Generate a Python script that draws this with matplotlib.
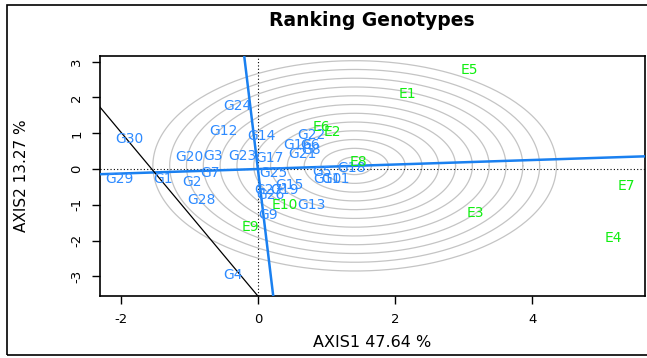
import numpy as np
import matplotlib
matplotlib.use("Agg")
import matplotlib.pyplot as plt
from matplotlib.patches import Rectangle

plt.rcParams['font.family'] = ['DejaVu Sans']
plt.rcParams['axes.unicode_minus'] = False

# genotype scores
gen_names = ["G1", "G2", "G3", "G4", "G5", "G6", "G7", "G8", "G9", "G10",
             "G11", "G12", "G13", "G14", "G15", "G16", "G17", "G18", "G19", "G20",
             "G21", "G22", "G23", "G24", "G25", "G26", "G27", "G28", "G29", "G30"]
gen_x = [-1.385, -0.962, -0.656, -0.364, 0.933, 0.758, -0.700, 0.773, 0.146, 1.020,
         1.137, -0.496, 0.787, 0.058, 0.466, 0.583, 0.175, 1.370, 0.394, -0.991,
         0.656, 0.773, -0.233, -0.292, 0.219, 0.190, 0.146, -0.816, -2.012, -1.866]
gen_y = [-0.279, -0.363, 0.363, -2.961, -0.084, 0.670, -0.112, 0.531, -1.285, -0.279,
         -0.279, 1.061, -1.006, 0.922, -0.447, 0.670, 0.307, 0.028, -0.587, 0.335,
         0.419, 0.950, 0.363, 1.760, -0.112, -0.726, -0.587, -0.866, -0.279, 0.838]

# environment scores
env_names = ["E1", "E2", "E3", "E4", "E5", "E6", "E7", "E8", "E9", "E10"]
env_x = [2.172, 1.079, 3.163, 5.175, 3.076, 0.933, 5.364, 1.458, -0.102, 0.394]
env_y = [2.095, 1.034, -1.229, -1.927, 2.765, 1.173, -0.475, 0.196, -1.620, -1.006]

# average environment axis and the ideal point rings
aea_slope = 0.063
ideal_x = 1.41
ring_radii = [0.245 * k for k in range(1, 13)]
black_pts = [(-2.30, 1.73), (0.0, -3.55)]

x_label = "AXIS1 47.64 %"
y_label = "AXIS2 13.27 %"
title = "Ranking Genotypes"

gen_col = "#2E8BFF"
env_col = "#11EE11"
line_col = "#1A80F0"

fig = plt.figure(figsize=(6.47, 3.58), dpi=100)
ax = fig.add_axes([100 / 647, 1 - 296 / 358, 545 / 647, 240 / 358])

# rings around the ideal genotype
ideal_y = aea_slope * ideal_x
t = np.linspace(0, 2 * np.pi, 400)
for r in ring_radii:
    ax.plot(ideal_x + r * np.cos(t), ideal_y + r * np.sin(t), color="#C4C4C4", lw=0.9, zorder=1)

ax.axhline(0, color="black", ls=(0, (1, 2)), lw=0.8, zorder=2)
ax.axvline(0, color="black", ls=(0, (1, 2)), lw=0.8, zorder=2)

ax.axline((0, 0), slope=aea_slope, color=line_col, lw=1.8, zorder=3)
ax.axline((0, 0), slope=-1 / aea_slope, color=line_col, lw=1.8, zorder=3)
ax.axline(black_pts[0], black_pts[1], color="black", lw=0.9, zorder=3)

for n, x, y in zip(gen_names, gen_x, gen_y):
    ax.text(x, y, n, color=gen_col, fontsize=10, ha="center", va="center", zorder=4)
for n, x, y in zip(env_names, env_x, env_y):
    ax.text(x, y, n, color=env_col, fontsize=10, ha="center", va="center", zorder=5)

ax.set_xlim(-2.30, 5.64)
ax.set_ylim(-3.55, 3.16)
ax.set_xticks([-2, 0, 2, 4])
ax.set_yticks([-3, -2, -1, 0, 1, 2, 3])
ax.tick_params(direction="out", length=6, width=1, labelsize=9.5, pad=6)
for lab in ax.get_yticklabels():
    lab.set_rotation(90)
    lab.set_va("center")
for s in ax.spines.values():
    s.set_linewidth(1.2)

ax.set_xlabel(x_label, fontsize=11.5, labelpad=7)
ax.set_ylabel(y_label, fontsize=11, labelpad=30)
fig.text(372 / 647, 1 - 20 / 358, title, fontsize=13.5, fontweight="bold", ha="center", va="center")

fig.patches.append(Rectangle((7 / 647, 3 / 358), 0.995, 350 / 358, transform=fig.transFigure,
                             fill=False, edgecolor="black", lw=1.2))

fig.savefig("out.png", dpi=100)
